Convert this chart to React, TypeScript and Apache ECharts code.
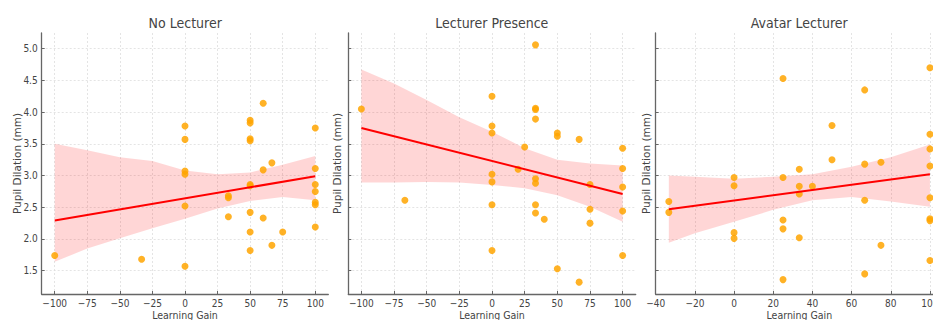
import React, { useEffect, useRef } from "react";
import * as echarts from "echarts";

// ---------- data ----------
const titles = ["No Lecturer", "Lecturer Presence", "Avatar Lecturer"];

const nlX = [-100, -33.3, 0, 0, 0, 0, 0, 0, 33.3, 33.3, 33.3, 50, 50, 50, 50, 50, 50, 50, 50, 50, 60, 60, 60, 66.7, 66.7, 75, 100, 100, 100, 100, 100, 100, 100];
const nlY = [1.74, 1.68, 3.78, 3.57, 3.07, 3.02, 2.52, 1.57, 2.68, 2.65, 2.35, 3.87, 3.83, 3.58, 3.55, 2.86, 2.84, 2.42, 2.11, 1.82, 4.14, 3.09, 2.33, 3.2, 1.9, 2.11, 3.75, 3.11, 2.86, 2.75, 2.58, 2.54, 2.19];

const lpX = [-100, -66.7, 0, 0, 0, 0, 0, 0, 0, 20, 25, 33.3, 33.3, 33.3, 33.3, 33.3, 33.3, 33.3, 33.3, 40, 50, 50, 50, 66.7, 66.7, 75, 75, 75, 100, 100, 100, 100, 100];
const lpY = [4.05, 2.61, 4.25, 3.78, 3.67, 3.02, 2.9, 2.54, 1.82, 3.1, 3.45, 5.06, 4.06, 4.04, 3.89, 2.95, 2.88, 2.54, 2.41, 2.31, 3.67, 3.62, 1.53, 3.57, 1.32, 2.86, 2.47, 2.25, 3.43, 3.11, 2.82, 2.44, 1.74];

const avX = [-33.3, -33.3, 0, 0, 0, 0, 25, 25, 25, 25, 25, 33.3, 33.3, 33.3, 33.3, 40, 50, 50, 66.7, 66.7, 66.7, 66.7, 75, 75, 100, 100, 100, 100, 100, 100, 100, 100];
const avY = [2.59, 2.42, 2.97, 2.84, 2.1, 2.01, 4.53, 2.97, 2.3, 2.16, 1.36, 3.1, 2.83, 2.71, 2.02, 2.83, 3.79, 3.25, 4.35, 3.18, 2.61, 1.45, 3.21, 1.9, 4.7, 3.65, 3.42, 3.15, 2.65, 2.32, 2.29, 1.66];

// regression lines (endpoints)
const nlFitX = [-100, 100];
const nlFitY = [2.29, 2.99];
const lpFitX = [-100, 100];
const lpFitY = [3.75, 2.71];
const avFitX = [-33.3, 100];
const avFitY = [2.47, 3.02];

// confidence bands
const nlBandX = [-100, -75, -50, -25, 0, 25, 50, 75, 100];
const nlUpper = [3.5, 3.4, 3.29, 3.23, 3.08, 3.02, 3.05, 3.17, 3.31];
const nlLower = [1.64, 1.85, 2.01, 2.17, 2.32, 2.48, 2.6, 2.66, 2.61];

const lpBandX = [-100, -75, -50, -25, 0, 25, 50, 75, 100];
const lpUpper = [4.67, 4.45, 4.19, 3.92, 3.69, 3.43, 3.25, 3.19, 3.16];
const lpLower = [2.89, 2.89, 2.9, 2.89, 2.85, 2.8, 2.69, 2.51, 2.27];

const avBandX = [-33.3, -20, 0, 20, 40, 60, 80, 100];
const avUpper = [3.0, 2.98, 2.95, 2.98, 3.02, 3.14, 3.29, 3.49];
const avLower = [1.94, 2.09, 2.27, 2.46, 2.61, 2.66, 2.59, 2.51];

// ticks
const xTicksWide = [-100, -75, -50, -25, 0, 25, 50, 75, 100];
const xTicksAv = [-40, -20, 0, 20, 40, 60, 80, 100];
const yTicks = [1.5, 2.0, 2.5, 3.0, 3.5, 4.0, 4.5, 5.0];

const panels = [
  { x: nlX, y: nlY, fx: nlFitX, fy: nlFitY, bx: nlBandX, bu: nlUpper, bl: nlLower, ticks: xTicksWide, min: -110, max: 110 },
  { x: lpX, y: lpY, fx: lpFitX, fy: lpFitY, bx: lpBandX, bu: lpUpper, bl: lpLower, ticks: xTicksWide, min: -110, max: 110 },
  { x: avX, y: avY, fx: avFitX, fy: avFitY, bx: avBandX, bu: avUpper, bl: avLower, ticks: xTicksAv, min: -40, max: 106.67 },
];

const gridLefts = [41.7, 348.3, 655.7];
const gridWidths = [286.6, 287.4, 287.3];
const yNameGaps = [19, 5.5, 4];
const FONT = "'DejaVu Sans Condensed', 'Liberation Sans Narrow', 'DejaVu Sans', sans-serif";
const FONT_V = "'DejaVu Sans', sans-serif";
const TXT = "#444";
const AXIS = "#666";

export default function App() {
  const ref = useRef<HTMLDivElement>(null);
  useEffect(() => {
    if (!ref.current) return;
    const chart = echarts.init(ref.current, null, { renderer: "svg" });
    const grid: any[] = [];
    const xAxis: any[] = [];
    const yAxis: any[] = [];
    const series: any[] = [];
    const graphic: any[] = [];
    panels.forEach((p, i) => {
      grid.push({ left: gridLefts[i], top: 33, width: gridWidths[i], height: 261, containLabel: false, outerBoundsMode: "none" });
      xAxis.push({
        type: "value",
        gridIndex: i,
        min: p.min,
        max: p.max,
        name: "Learning Gain",
        nameLocation: "middle",
        nameGap: 15,
        nameMoveOverlap: false,
        nameTextStyle: { color: TXT, fontSize: 10.5, fontFamily: FONT },
        axisLine: { show: true, onZero: false, lineStyle: { color: AXIS, width: 1.3 } },
        axisTick: { show: true, inside: true, length: 3, customValues: p.ticks, lineStyle: { color: AXIS } },
        axisLabel: {
          customValues: p.ticks,
          color: TXT,
          fontSize: 10,
          fontFamily: FONT,
          margin: 4,
          formatter: (v: number) => String(v).replace("-", "\u2212"),
        },
        splitLine: { show: true, lineStyle: { color: "#dddddd", type: [2, 2], width: 0.8 } },
      });
      yAxis.push({
        type: "value",
        gridIndex: i,
        min: 1.133,
        max: 5.247,
        name: "Pupil Dilation (mm)",
        nameLocation: "middle",
        nameGap: yNameGaps[i],
        nameMoveOverlap: false,
        nameTextStyle: { color: TXT, fontSize: 10.5, fontFamily: FONT_V },
        axisLine: { show: true, onZero: false, lineStyle: { color: AXIS, width: 1.3 } },
        axisTick: { show: true, inside: true, length: 3, customValues: yTicks, lineStyle: { color: AXIS } },
        axisLabel: {
          show: i === 0,
          customValues: yTicks,
          color: TXT,
          fontSize: 10,
          fontFamily: FONT,
          margin: 4,
          formatter: (v: number) => v.toFixed(1),
        },
        splitLine: { show: true, lineStyle: { color: "#dddddd", type: [2, 2], width: 0.8 } },
      });
      series.push({
        type: "custom",
        xAxisIndex: i,
        yAxisIndex: i,
        silent: true,
        z: 1,
        data: [[p.bx[0], p.bu[0]]],
        renderItem: (_params: any, api: any) => {
          const pts: number[][] = [];
          for (let k = 0; k < p.bx.length; k++) pts.push(api.coord([p.bx[k], p.bu[k]]));
          for (let k = p.bx.length - 1; k >= 0; k--) pts.push(api.coord([p.bx[k], p.bl[k]]));
          return { type: "polygon", shape: { points: pts }, style: { fill: "rgba(255,0,0,0.16)", stroke: "none" } };
        },
      });
      series.push({
        type: "scatter",
        xAxisIndex: i,
        yAxisIndex: i,
        symbolSize: 7,
        z: 2,
        itemStyle: { color: "#FFA500", opacity: 0.85 },
        data: p.x.map((x, k) => [x, p.y[k]]),
      });
      series.push({
        type: "line",
        xAxisIndex: i,
        yAxisIndex: i,
        symbol: "none",
        z: 3,
        lineStyle: { color: "#FF0000", width: 2 },
        data: p.fx.map((x, k) => [x, p.fy[k]]),
      });
      graphic.push({
        type: "text",
        x: gridLefts[i] + 143.5,
        y: 23,
        style: {
          text: titles[i],
          fontSize: 14,
          fontFamily: FONT,
          fill: TXT,
          textAlign: "center",
          textVerticalAlign: "middle",
        },
      });
    });
    chart.setOption({
      animation: false,
      backgroundColor: "#ffffff",
      grid,
      xAxis,
      yAxis,
      series,
      graphic,
    });
    return () => chart.dispose();
  }, []);
  return (
    <div style={{ position: "fixed", left: 0, top: 0, width: 933, height: 320, overflow: "hidden" }}>
      <div ref={ref} style={{ width: 960, height: 320 }} />
    </div>
  );
}
